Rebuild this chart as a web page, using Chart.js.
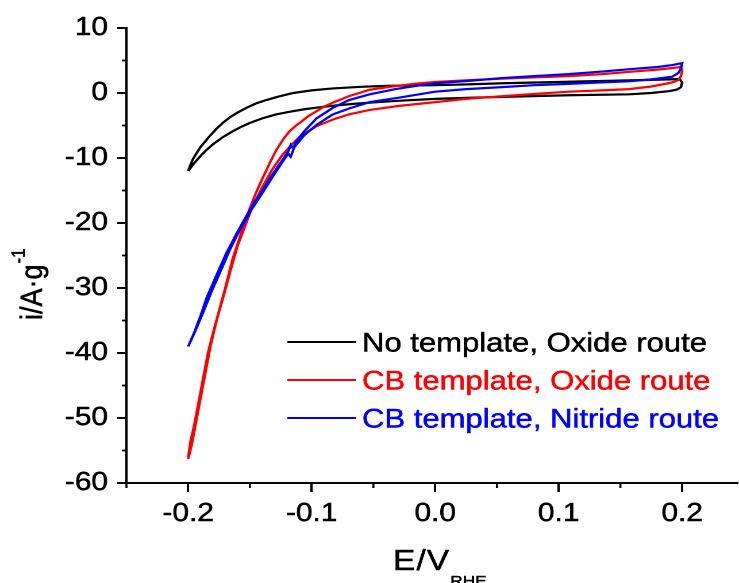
<!DOCTYPE html>
<html lang="en">
<head>
<meta charset="UTF-8">
<title>Cyclic voltammograms</title>
<script src="https://cdn.jsdelivr.net/npm/chart.js"></script>
<style>
    html, body { margin: 0; padding: 0; background: #fff; overflow: hidden; }
    /* the source figure's lettering is wider than Arial, so the whole canvas is stretched a little */
    #wrap { width: 643px; height: 583px; transform: scaleX(1.1493); transform-origin: 0 0; }
</style>
</head>
<body>
<div id="wrap"><canvas id="cv"></canvas></div>
<script>
// No template, Oxide route
const blackE = [-0.200,-0.198,-0.196,-0.193,-0.190,-0.186,-0.182,-0.177,-0.172,-0.166,-0.160,-0.153,-0.145,-0.137,-0.128,-0.115,-0.100,-0.083,-0.060,-0.040,-0.020,0.000,0.030,0.055,0.090,0.135,0.170,0.190,0.198,0.200,0.199,0.196,0.190,0.175,0.157,0.108,0.054,0.025,0.000,-0.030,-0.050,-0.065,-0.080,-0.094,-0.106,-0.118,-0.129,-0.140,-0.150,-0.157,-0.164,-0.172,-0.180,-0.186,-0.191,-0.196,-0.200];
const blackI = [-12.0,-11.0,-10.1,-9.2,-8.3,-7.4,-6.5,-5.5,-4.6,-3.7,-3.0,-2.3,-1.6,-1.1,-0.6,0.0,0.4,0.7,0.95,1.1,1.15,1.2,1.35,1.5,1.65,1.85,2.0,2.1,2.15,1.6,0.9,0.55,0.3,0.0,-0.2,-0.35,-0.6,-0.75,-0.9,-1.2,-1.45,-1.65,-1.9,-2.2,-2.5,-2.9,-3.3,-3.9,-4.6,-5.2,-5.9,-6.8,-7.9,-8.9,-9.9,-11.0,-12.0];

// CB template, Oxide route
const redE = [-0.200,-0.198,-0.195,-0.192,-0.188,-0.184,-0.180,-0.175,-0.170,-0.164,-0.157,-0.150,-0.145,-0.140,-0.134,-0.129,-0.123,-0.118,-0.112,-0.109,-0.103,-0.096,-0.090,-0.083,-0.070,-0.053,-0.035,-0.015,0.000,0.030,0.054,0.080,0.108,0.135,0.160,0.180,0.192,0.199,
              0.200,0.199,0.197,0.193,0.189,0.175,0.157,0.135,0.108,0.080,0.054,0.025,0.000,-0.030,-0.053,-0.070,-0.083,-0.096,-0.102,-0.110,-0.116,-0.124,-0.132,-0.140,-0.148,-0.154,-0.160,-0.166,-0.171,-0.177,-0.182,-0.186,-0.190,-0.194,-0.197,-0.200];
const redI = [-56.0,-53.5,-51,-48,-44,-40,-37,-33.5,-30,-25.5,-21.5,-17.7,-15.3,-13.2,-10.8,-8.9,-7.1,-5.9,-4.9,-4.5,-3.6,-2.8,-2.1,-1.5,-0.5,0.5,1.0,1.45,1.7,2.0,2.2,2.4,2.6,2.9,3.3,3.6,3.85,4.0,
              3.4,2.6,2.0,1.7,1.5,1.0,0.6,0.4,0.2,-0.15,-0.5,-0.9,-1.4,-2.0,-2.6,-3.3,-4.1,-5.1,-5.8,-6.8,-7.9,-9.6,-11.8,-14.5,-17.5,-20.5,-23.5,-27.5,-31,-35,-39,-43,-47,-51,-54,-56.3];

// CB template, Nitride route
const blueE = [-0.200,-0.195,-0.190,-0.185,-0.177,-0.169,-0.161,-0.154,-0.147,-0.140,-0.132,-0.124,-0.119,-0.117,-0.115,-0.112,-0.106,-0.096,-0.083,-0.070,-0.053,-0.032,-0.015,0.000,0.030,0.054,0.080,0.108,0.135,0.160,0.180,0.192,0.200,
               0.199,0.197,0.192,0.175,0.157,0.130,0.108,0.080,0.054,0.025,0.000,-0.032,-0.053,-0.070,-0.083,-0.096,-0.106,-0.114,-0.117,-0.119,-0.124,-0.132,-0.142,-0.150,-0.158,-0.166,-0.174,-0.181,-0.188,-0.194,-0.200];
const blueI = [-39.0,-36.8,-34.3,-31.5,-28.0,-24.6,-21.7,-19.3,-17.0,-15.0,-12.6,-10.4,-9.0,-8.0,-8.5,-7.3,-5.9,-3.9,-2.3,-1.1,-0.2,0.6,1.1,1.5,1.9,2.3,2.6,2.9,3.3,3.7,4.0,4.3,4.6,
               3.8,3.1,2.5,2.1,1.8,1.6,1.4,1.2,0.9,0.6,0.2,-0.8,-1.4,-2.4,-3.3,-4.9,-6.5,-8.3,-9.8,-9.3,-10.7,-13.0,-16.0,-18.3,-21.0,-24.0,-27.5,-30.5,-33.8,-36.5,-39.0];

const seriesNames = ['No template, Oxide route', 'CB template, Oxide route', 'CB template, Nitride route'];
const seriesColors = ['#000000', '#ff0000', '#0000ff'];

const majorE = [-0.2, -0.1, 0.0, 0.1, 0.2];
const minorE = [-0.25, -0.15, -0.05, 0.05, 0.15];
const minorI = [5, -5, -15, -25, -35, -45, -55];

const FONT = '"Liberation Sans", Arial, sans-serif';

function pts(xs, ys) {
    return xs.map((x, i) => ({ x: x, y: ys[i] }));
}

// fill plus a hairline stroke, the source lettering is a bit heavier
function text(ctx, s, x, y) {
    ctx.fillText(s, x, y);
    ctx.lineWidth = 0.5;
    ctx.strokeStyle = ctx.fillStyle;
    ctx.strokeText(s, x, y);
}

// minor ticks, axis titles and the legend inside the plot
const decor = {
    id: 'decor',
    afterDraw(chart) {
        const ctx = chart.ctx;
        const sx = chart.scales.x, sy = chart.scales.y;
        ctx.save();
        ctx.strokeStyle = '#000';
        ctx.lineWidth = 1.8;
        minorE.forEach(v => {
            const px = sx.getPixelForValue(v);
            ctx.beginPath(); ctx.moveTo(px, sx.top); ctx.lineTo(px, sx.top + 5); ctx.stroke();
        });
        minorI.forEach(v => {
            const py = sy.getPixelForValue(v);
            ctx.beginPath(); ctx.moveTo(sy.right, py); ctx.lineTo(sy.right - 4, py); ctx.stroke();
        });

        ctx.fillStyle = '#000';
        ctx.textAlign = 'left';
        ctx.textBaseline = 'alphabetic';
        // x title E/V_RHE
        ctx.font = '29px ' + FONT;
        ctx.letterSpacing = '1px';
        text(ctx, 'E/V', 342, 570);
        let w = ctx.measureText('E/V').width;
        ctx.letterSpacing = '0px';
        ctx.font = '15px ' + FONT;
        text(ctx, 'RHE', 342 + w, 586);

        // y title i/A·g^-1
        ctx.save();
        ctx.translate(36.5, 320);
        ctx.rotate(-Math.PI / 2);
        ctx.font = '27px ' + FONT;
        text(ctx, 'i/A·g', 0, 0);
        w = ctx.measureText('i/A·g').width;
        ctx.font = '17px ' + FONT;
        text(ctx, '-1', w + 1, -15);
        ctx.restore();

        // legend
        ctx.font = '27px ' + FONT;
        ctx.textBaseline = 'middle';
        seriesNames.forEach((name, k) => {
            const y = 342 + k * 38;
            ctx.lineWidth = 2;
            ctx.strokeStyle = seriesColors[k];
            ctx.beginPath(); ctx.moveTo(250, y); ctx.lineTo(310, y); ctx.stroke();
            ctx.fillStyle = seriesColors[k];
            text(ctx, name, 315, y + 2);
        });
        ctx.restore();
    }
};

const lineStyle = { showLine: true, pointRadius: 0, borderWidth: 2.2, tension: 0, fill: false };
const tickFont = { family: FONT, size: 26 };

new Chart(document.getElementById('cv'), {
    type: 'scatter',
    data: {
        datasets: [
            Object.assign({ label: seriesNames[2], data: pts(blueE, blueI), borderColor: seriesColors[2] }, lineStyle),
            Object.assign({ label: seriesNames[1], data: pts(redE, redI), borderColor: seriesColors[1] }, lineStyle),
            Object.assign({ label: seriesNames[0], data: pts(blackE, blackI), borderColor: seriesColors[0] }, lineStyle)
        ]
    },
    options: {
        responsive: true,
        maintainAspectRatio: false,
        devicePixelRatio: 2,
        animation: false,
        layout: { padding: { top: 28, right: 0, bottom: 0, left: 0 } },
        plugins: { legend: { display: false }, tooltip: { enabled: false } },
        scales: {
            x: {
                type: 'linear',
                min: -0.25,
                max: 0.245,
                afterBuildTicks: s => { s.ticks = majorE.map(v => ({ value: v })); },
                afterFit: s => { s.height = 100; },
                grid: { drawOnChartArea: false, drawTicks: true, tickLength: 9, tickWidth: 2, tickColor: '#000' },
                border: { display: true, color: '#000', width: 2 },
                ticks: {
                    color: '#000',
                    textStrokeColor: '#000',
                    textStrokeWidth: 0.5,
                    padding: 6,
                    maxRotation: 0,
                    font: tickFont,
                    callback: v => Number(v).toFixed(1)
                }
            },
            y: {
                type: 'linear',
                min: -60,
                max: 10,
                afterFit: s => { s.width = 110; },
                grid: { drawOnChartArea: false, drawTicks: true, tickLength: 8, tickWidth: 2, tickColor: '#000' },
                border: { display: true, color: '#000', width: 2 },
                ticks: {
                    color: '#000',
                    textStrokeColor: '#000',
                    textStrokeWidth: 0.5,
                    padding: 8,
                    stepSize: 10,
                    font: tickFont
                }
            }
        }
    },
    plugins: [decor]
});
</script>
</body>
</html>
